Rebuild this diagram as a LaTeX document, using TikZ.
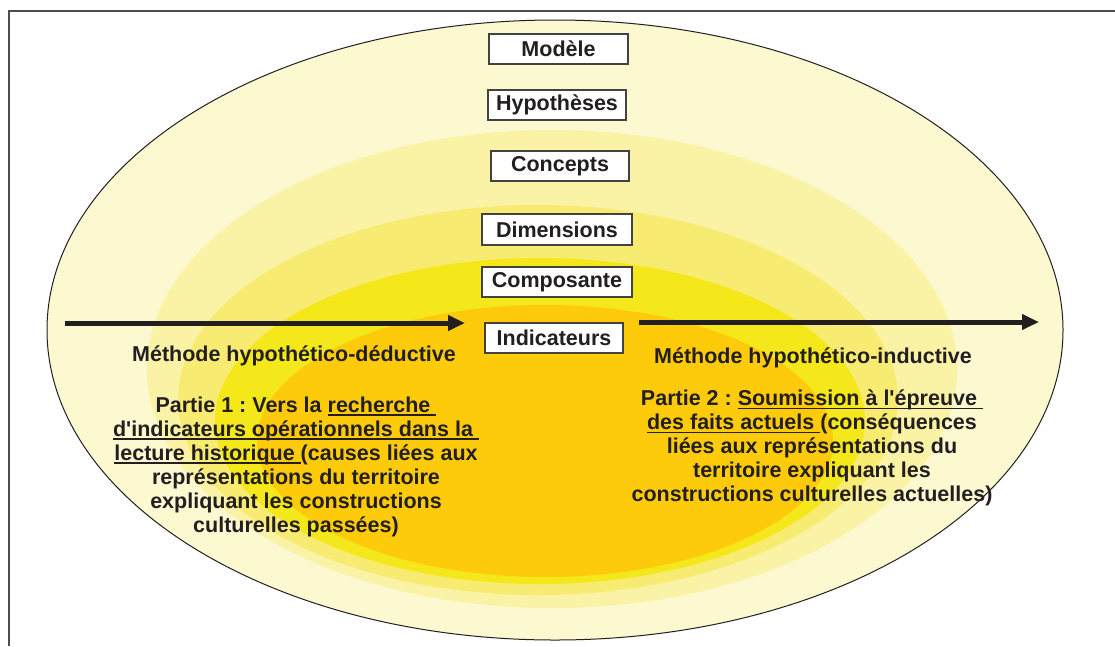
\documentclass[tikz,border=0pt]{standalone}
\usepackage{fontspec}
\setmainfont{Liberation Sans}[Ligatures=TeXOff]
\usetikzlibrary{arrows.meta}
\definecolor{ink}{HTML}{231F20}
\definecolor{lay1}{HTML}{FCF8D0}
\definecolor{lay2}{HTML}{FAF3A6}
\definecolor{lay3}{HTML}{F8EB72}
\definecolor{lay4}{HTML}{F4E71A}
\definecolor{lay5}{HTML}{FDCB0A}
\newcommand\ulx[1]{\setbox0\hbox{#1}\rlap{\color{ink}\rule[-3.2pt]{\wd0}{1.6pt}}\box0}
\frenchspacing
\tikzset{
  lbl/.style={font=\fontsize{21.5}{24}\selectfont\bfseries\frenchspacing, text=ink, inner sep=0pt},
  levelbox/.style={lbl, draw=ink!85, line width=1.2pt, fill=white, minimum height=30pt, anchor=center},
  bigarrow/.style={draw=ink, line width=5pt, -{Triangle[length=17pt,width=15pt]}}
}
\begin{document}
\begin{tikzpicture}[x=1pt,y=-1pt]
\useasboundingbox (0,0) rectangle (1115,646);
\fill[white] (0,0) rectangle (1115,646);
% frame
\draw[ink!80, line width=1.5pt] (9,646) -- (9,11) -- (1115,11);
% layered ellipses
\filldraw[fill=lay1, draw=ink, line width=1pt] (555,330) ellipse [x radius=508pt, y radius=310pt];
\fill[lay2] (552,369) ellipse [x radius=405pt, y radius=239pt];
\fill[lay3] (538,400) ellipse [x radius=360pt, y radius=195pt];
\fill[lay4] (540,421) ellipse [x radius=325pt, y radius=163pt];
\fill[lay5] (545,441) ellipse [x radius=288pt, y radius=136pt];
% level boxes
\node[levelbox, minimum width=139pt] (mod) at (558.5,49) {Modèle};
\node[levelbox, minimum width=138pt] (hyp) at (557,105) {Hypothèses};
\node[levelbox, minimum width=138pt] (con) at (560,166) {Concepts};
\node[levelbox, minimum width=150pt, minimum height=31pt] (dim) at (557,229.5) {Dimensions};
\node[levelbox, minimum width=150pt] (comp) at (557,282) {Composante};
\node[levelbox, minimum width=138pt] (ind) at (554,338) {Indicateurs};
% arrows
\coordinate (las) at (65,323);
\coordinate (lae) at (465,323);
\coordinate (ras) at (639,322);
\coordinate (rae) at (1039,322);
\draw[bigarrow] (las) -- (lae);
\draw[bigarrow] (ras) -- (rae);
% method labels
\node[lbl, anchor=base] (mhd) at (294,361) {Méthode hypothético-déductive};
\node[lbl, anchor=base] (mhi) at (813,363) {Méthode hypothético-inductive};
% part texts
\node[lbl, anchor=north, align=center] (p1) at (296,397) {Partie 1 : Vers la \ulx{recherche\ }\\
\ulx{d'indicateurs opérationnels dans la\ }\\
\ulx{lecture historique\ }(causes liées aux\\
représentations du territoire\\
expliquant les constructions\\
culturelles passées)};
\node[lbl, anchor=north, align=center] (p2) at (812,390) {Partie 2 : \ulx{Soumission à l'épreuve\ }\\
\ulx{des faits actuels\ }(conséquences\\
liées aux représentations du\\
territoire expliquant les\\
constructions culturelles actuelles)};
\end{tikzpicture}
\end{document}
